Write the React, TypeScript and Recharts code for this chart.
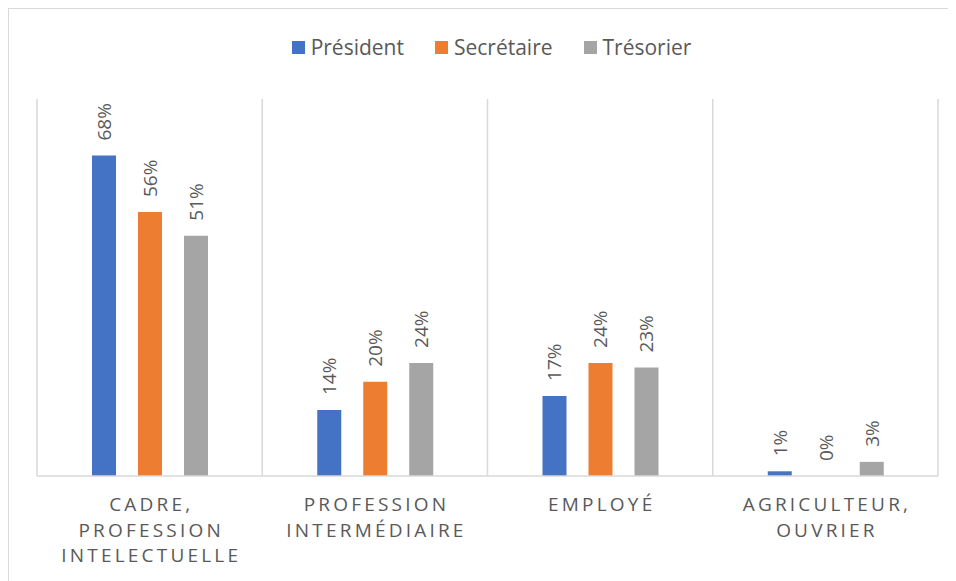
import React from 'react';
import { BarChart, Bar, XAxis, YAxis, CartesianGrid, Legend, LabelList } from 'recharts';

const categories = ['CADRE, PROFESSION INTELECTUELLE', 'PROFESSION INTERMÉDIAIRE', 'EMPLOYÉ', 'AGRICULTEUR, OUVRIER'];
const categoryLines = [
  ['CADRE,', 'PROFESSION', 'INTELECTUELLE'],
  ['PROFESSION', 'INTERMÉDIAIRE'],
  ['EMPLOYÉ'],
  ['AGRICULTEUR,', 'OUVRIER'],
];
const seriesNames = ['Président', 'Secrétaire', 'Trésorier'];
const seriesColors = ['#4472C4', '#ED7D31', '#A5A5A5'];
const president = [0.68, 0.14, 0.17, 0.01];
const secretaire = [0.56, 0.2, 0.24, 0.0];
const tresorier = [0.51, 0.24, 0.23, 0.03];

const data = categories.map((c, i) => ({
  name: c,
  p: president[i],
  s: secretaire[i],
  t: tresorier[i],
}));
const keys = ['p', 's', 't'];

const FONT = "'Open Sans', sans-serif";
const TEXT = '#595959';

const CategoryTick = (props: any) => {
  const { x, y, payload, index } = props;
  const lines = categoryLines[index] || [String(payload.value)];
  return (
    <text x={x} y={y} textAnchor="middle" fill={TEXT} fontSize={19} fontFamily={FONT} letterSpacing={3.2}>
      {lines.map((l, i) => (
        <tspan key={i} x={x + 1.6} dy={i === 0 ? 27 : 25.7}>
          {l}
        </tspan>
      ))}
    </text>
  );
};

const ValueLabel = (props: any) => {
  const { x, y, width, value } = props;
  const cx = x + width / 2;
  const ty = y - 15;
  return (
    <text
      x={cx}
      y={ty}
      transform={`rotate(-90, ${cx}, ${ty})`}
      textAnchor="start"
      dominantBaseline="central"
      fill={TEXT}
      fontSize={19}
      fontFamily={FONT}
    >
      {`${Math.round(value * 100)}%`}
    </text>
  );
};

const LegendContent = () => (
  <div style={{ display: 'flex', justifyContent: 'center', alignItems: 'center', height: 24, paddingLeft: 8 }}>
    {seriesNames.map((n, i) => (
      <div key={n} style={{ display: 'flex', alignItems: 'center', marginRight: i < 2 ? 31 : 0 }}>
        <div style={{ width: 13, height: 13, background: seriesColors[i], marginRight: 6 }} />
        <span style={{ fontFamily: FONT, fontSize: 21, color: TEXT, lineHeight: '24px' }}>{n}</span>
      </div>
    ))}
  </div>
);

export default function App() {
  return (
    <div
      style={{
        width: 947,
        height: 572,
        borderTop: '1px solid #d9d9d9',
        borderLeft: '1px solid #d9d9d9',
        fontFamily: FONT,
        background: '#fff',
      }}
    >
      <BarChart
        width={947}
        height={572}
        data={data}
        margin={{ top: 66, right: 18, bottom: 0, left: 28 }}
        barSize={24}
        barGap={22}
      >
        <CartesianGrid
          horizontal={false}
          vertical
          stroke="#d9d9d9"
          strokeWidth={1.5}
          verticalCoordinatesGenerator={({ offset }: any) =>
            Array.from({ length: categories.length + 1 }, (_, i) => offset.left + (i * offset.width) / categories.length)
          }
        />
        <XAxis
          dataKey="name"
          height={105}
          tickLine={false}
          axisLine={{ stroke: '#d9d9d9', strokeWidth: 1.5 }}
          tick={<CategoryTick />}
          interval={0}
        />
        <YAxis hide domain={[0, 0.8]} />
        <Legend verticalAlign="top" wrapperStyle={{ top: 26 }} content={<LegendContent />} />
        {keys.map((k, i) => (
          <Bar
            key={k}
            dataKey={k}
            name={seriesNames[i]}
            fill={seriesColors[i]}
            minPointSize={0.01}
            isAnimationActive={false}
          >
            <LabelList dataKey={k} content={<ValueLabel />} />
          </Bar>
        ))}
      </BarChart>
    </div>
  );
}
